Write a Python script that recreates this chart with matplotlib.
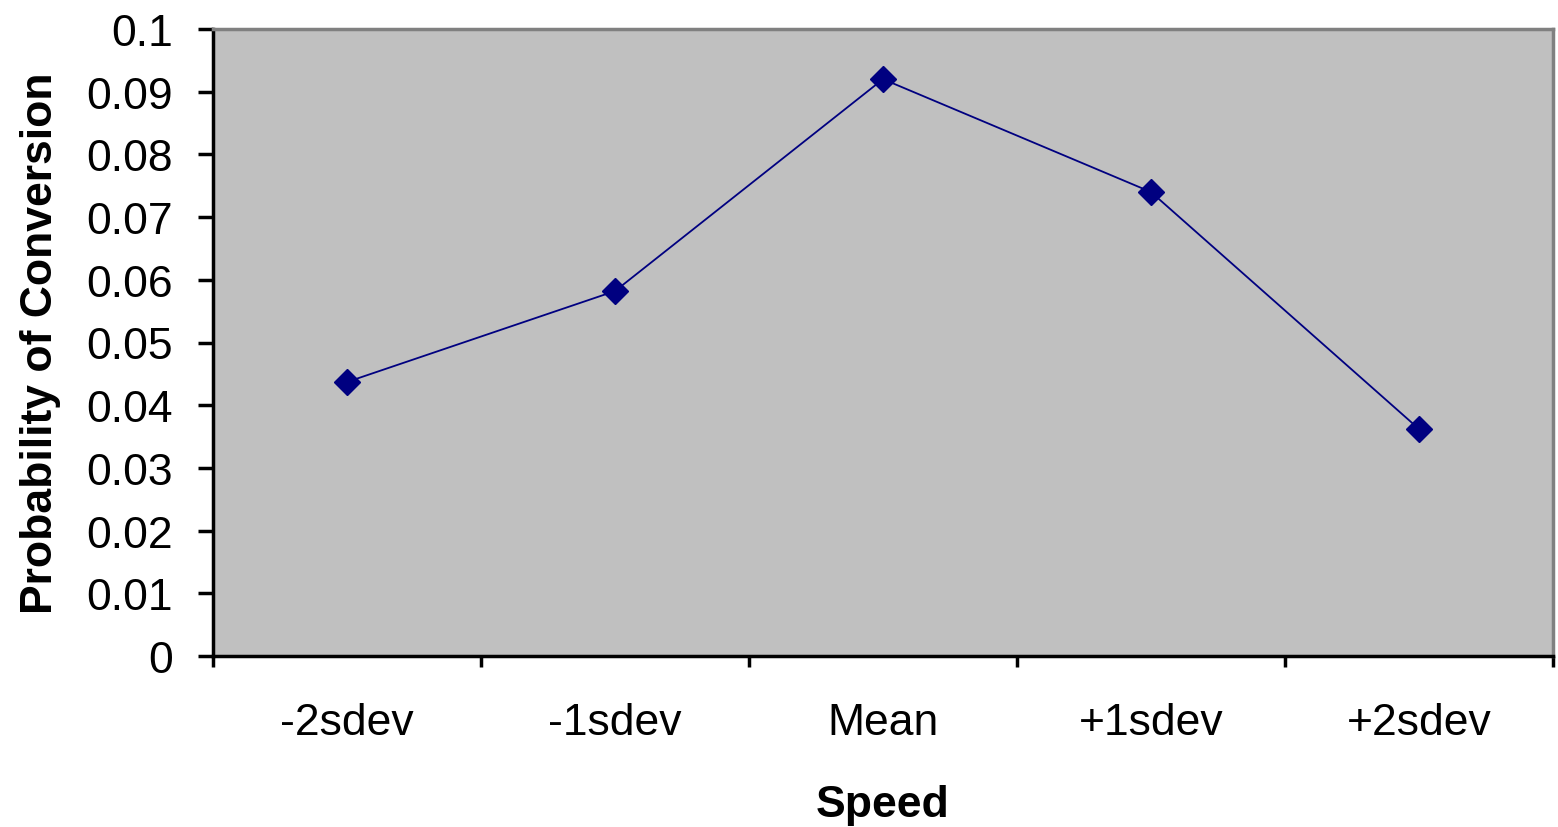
import matplotlib
matplotlib.use("Agg")
import matplotlib.pyplot as plt
import numpy as np

categories = ["-2sdev", "-1sdev", "Mean", "+1sdev", "+2sdev"]
values = [0.0437, 0.0582, 0.0920, 0.0740, 0.0362]
yticks = [0, 0.01, 0.02, 0.03, 0.04, 0.05, 0.06, 0.07, 0.08, 0.09, 0.1]
ytick_labels = ["0", "0.01", "0.02", "0.03", "0.04", "0.05", "0.06", "0.07", "0.08", "0.09", "0.1"]

plt.rcParams['font.family'] = ['Liberation Sans', 'DejaVu Sans']

fig = plt.figure(figsize=(15.58, 8.28), dpi=100)
ax = fig.add_axes([213/1558, 1-657/828, (1553-213)/1558, (657-30)/828])
ax.set_facecolor('#C0C0C0')

x = np.arange(len(categories))
ax.plot(x, values, color='#000080', linewidth=1.3, marker='D', markersize=13,
        markerfacecolor='#000080', markeredgecolor='#000080')

ax.set_xlim(-0.5, len(categories) - 0.5)
ax.set_ylim(0, 0.1)
ax.set_yticks(yticks)
ax.set_yticklabels(ytick_labels, fontsize=32)
ax.set_xticks(np.arange(-0.5, len(categories)))
ax.set_xticklabels([])
ax.set_xticks(x, minor=True)
ax.set_xticklabels(categories, minor=True, fontsize=32)
ax.tick_params(axis='x', which='major', direction='out', length=8, width=2.5, color='black')
ax.tick_params(axis='x', which='minor', length=0, pad=33)
ax.tick_params(axis='y', direction='out', length=11, width=2.5, color='black', pad=18)

for side in ['left', 'bottom']:
    ax.spines[side].set_color('black')
    ax.spines[side].set_linewidth(2.5)
for side in ['top', 'right']:
    ax.spines[side].set_color('#808080')
    ax.spines[side].set_linewidth(2.5)

ax.set_xlabel("Speed", fontsize=32, fontweight='bold', labelpad=30)
ax.set_ylabel("Probability of Conversion", fontsize=32, fontweight='bold', labelpad=18)

fig.savefig("out.png", dpi=100, facecolor='white')
